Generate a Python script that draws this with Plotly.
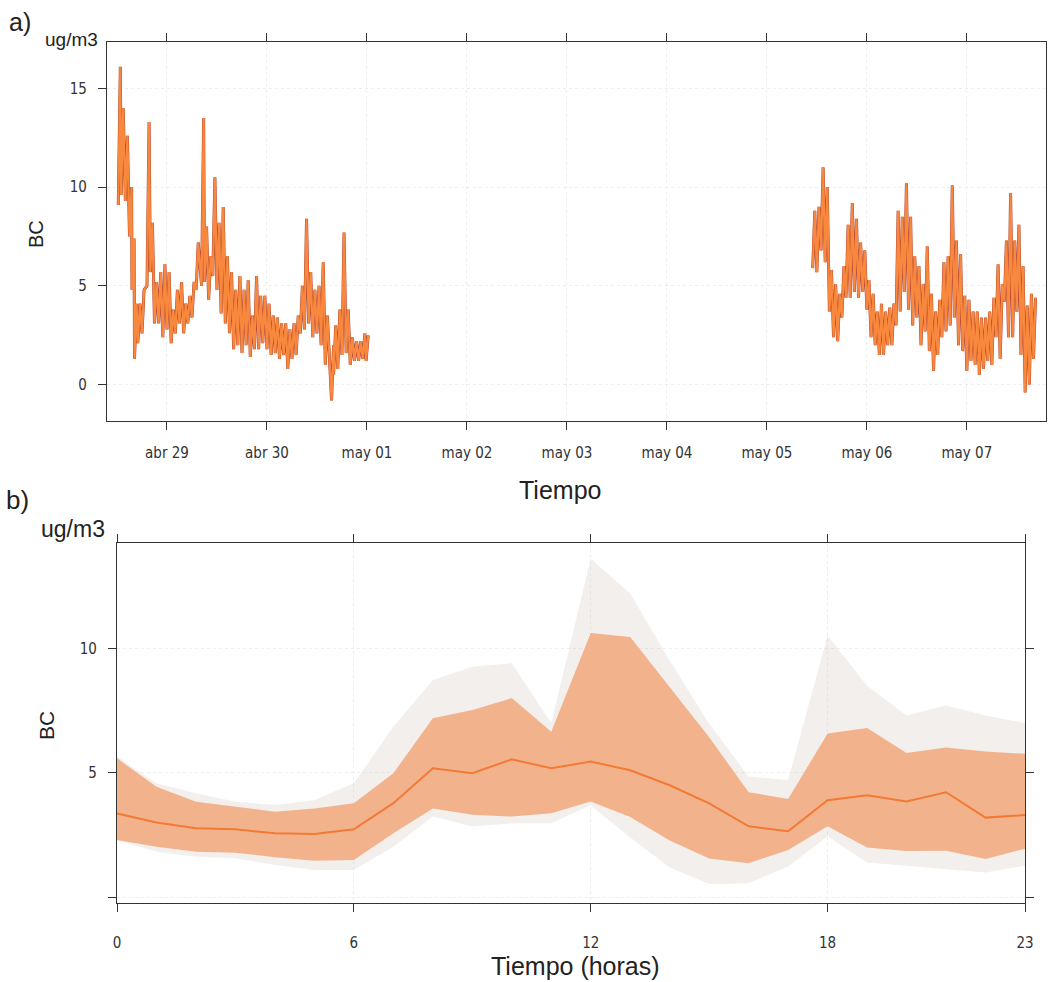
import datetime as dt
import plotly.graph_objects as go

# ---------------- Panel a: BC time series (hours since 2017-04-28 00:00) ----------------
seg1_hours = [12.3, 13, 14, 15, 15.6, 16.2, 17, 18, 19.2, 20, 21, 22, 23, 24, 25, 26, 27, 28, 29, 30,
              31, 32.3, 33, 34, 35, 36, 37, 38, 39, 40, 41, 42, 43, 44, 45, 46, 47, 48, 49, 50,
              51, 52, 53, 54, 55, 56, 57, 58, 59, 60, 61, 62, 63.5, 64, 65, 66, 67, 68, 69, 70,
              71, 71.8]
seg1_low = [9.1, 9.6, 9.3, 7.5, 4.8, 1.3, 2.1, 2.6, 5.0, 5.7, 3.1, 3.1, 2.4, 2.8, 2.1, 2.6, 3.1, 2.6, 3.1, 3.4,
            4.8, 5.0, 5.2, 4.3, 5.5, 4.8, 3.6, 3.1, 2.6, 1.8, 2.0, 1.6, 2.0, 1.4, 1.8, 1.8, 2.1, 1.8, 1.5, 1.6,
            1.3, 1.5, 0.8, 1.3, 1.5, 2.6, 2.8, 3.1, 2.4, 2.6, 2.0, 1.0, -0.8, 0.5, 0.8, 1.5, 1.6, 1.0, 1.2, 1.2,
            1.3, 1.2]
seg1_high = [16.1, 14.0, 12.6, 10.0, 7.4, 4.1, 4.1, 4.8, 13.3, 8.2, 5.2, 5.7, 6.1, 5.7, 3.8, 4.8, 5.2, 4.1, 4.5, 5.2,
             7.2, 13.5, 8.0, 6.5, 10.5, 8.2, 9.0, 6.5, 5.7, 4.8, 5.5, 4.8, 5.3, 3.5, 5.5, 4.5, 4.5, 4.1, 3.5, 3.4,
             3.1, 3.1, 2.8, 3.1, 3.5, 5.0, 8.4, 5.7, 4.8, 5.0, 6.2, 3.5, 2.0, 3.0, 3.8, 7.7, 3.8, 2.4, 2.2, 2.2,
             2.6, 2.5]

seg2_hours = [179, 180, 181, 182, 183, 184, 185, 186, 187, 188, 189, 190, 191, 192, 193, 194, 195, 196, 197, 198,
              199, 200, 201, 202, 203, 204, 205, 206, 207, 208, 209, 210, 211, 212, 213, 214, 215, 216, 217, 218,
              219, 220, 221, 222, 223, 224, 225, 226, 227, 228, 229, 230, 231, 232]
seg2_low = [5.9, 5.7, 6.8, 6.2, 3.7, 2.4, 2.2, 3.4, 4.4, 4.4, 4.7, 4.4, 4.7, 3.8, 2.4, 2.0, 1.5, 1.5, 2.0, 2.0,
            3.0, 3.7, 4.7, 3.8, 3.0, 3.4, 2.0, 2.7, 1.7, 0.7, 1.5, 2.4, 2.7, 3.0, 3.4, 2.0, 1.7, 0.7, 1.2, 1.0,
            0.5, 0.8, 1.2, 1.0, 2.4, 1.3, 4.2, 2.4, 2.4, 3.7, 1.5, -0.4, 0.0, 1.3]
seg2_high = [8.8, 9.0, 11.0, 10.0, 5.8, 5.1, 4.6, 6.0, 8.1, 9.2, 8.4, 7.2, 6.8, 5.3, 4.6, 3.7, 4.1, 3.7, 3.9, 4.1,
             8.8, 8.5, 10.2, 8.5, 6.5, 6.0, 5.1, 7.0, 4.6, 3.7, 4.3, 6.2, 6.5, 10.1, 7.3, 6.6, 4.5, 4.3, 3.7, 3.7,
             3.4, 3.4, 3.7, 4.4, 6.1, 5.1, 7.3, 9.7, 7.3, 8.1, 6.0, 4.0, 4.6, 4.4]

day_ticks = ["2017-04-29", "2017-04-30", "2017-05-01", "2017-05-02", "2017-05-03",
             "2017-05-04", "2017-05-05", "2017-05-06", "2017-05-07"]
day_labels = ["abr 29", "abr 30", "may 01", "may 02", "may 03", "may 04", "may 05", "may 06", "may 07"]

# ---------------- Panel b: diurnal profile ----------------
hours = list(range(24))
bc_mean = [3.37, 3.0, 2.77, 2.73, 2.57, 2.54, 2.73, 3.78, 5.18, 4.98, 5.54, 5.18,
           5.45, 5.1, 4.5, 3.77, 2.85, 2.65, 3.9, 4.1, 3.85, 4.22, 3.2, 3.3]
q_low = [2.30, 2.03, 1.83, 1.79, 1.61, 1.47, 1.5, 2.57, 3.57, 3.31, 3.24, 3.37,
         3.85, 3.22, 2.28, 1.56, 1.37, 1.9, 2.85, 2.0, 1.86, 1.87, 1.54, 1.95]
q_high = [5.58, 4.44, 3.84, 3.64, 3.44, 3.57, 3.78, 4.98, 7.19, 7.52, 8.0, 6.65,
          10.62, 10.45, 8.45, 6.43, 4.22, 3.95, 6.58, 6.8, 5.79, 6.02, 5.86, 5.76]
ext_low = [2.3, 1.83, 1.63, 1.57, 1.3, 1.1, 1.1, 2.03, 3.24, 2.84, 2.97, 2.97,
           3.7, 2.4, 1.2, 0.53, 0.56, 1.24, 2.45, 1.4, 1.27, 1.13, 1.0, 1.27]
ext_high = [5.65, 4.58, 4.18, 3.84, 3.71, 3.9, 4.58, 6.85, 8.73, 9.26, 9.4, 7.0,
            13.6, 12.2, 9.5, 6.97, 4.85, 4.71, 10.5, 8.5, 7.3, 7.7, 7.3, 7.0]

base = dt.datetime(2017, 4, 28)


def zigzag(hrs, lo, hi):
    xs, ys = [], []
    for h, a, b in zip(hrs, lo, hi):
        xs += [base + dt.timedelta(hours=h), base + dt.timedelta(hours=h + 0.5)]
        ys += [a, b]
    return xs, ys


x1, y1 = zigzag(seg1_hours, seg1_low, seg1_high)
x2, y2 = zigzag(seg2_hours, seg2_low, seg2_high)
xa = x1 + [None] + x2
ya = y1 + [None] + y2

fig = go.Figure()
fig.add_trace(go.Scatter(x=xa, y=ya, mode="lines", line=dict(color="#b0402f", width=3.0),
                         connectgaps=False, showlegend=False, xaxis="x", yaxis="y"))
fig.add_trace(go.Scatter(x=xa, y=ya, mode="lines", line=dict(color="#f7883e", width=2.2),
                         connectgaps=False, showlegend=False, xaxis="x", yaxis="y"))

# panel b: outer faint band
fig.add_trace(go.Scatter(x=hours, y=ext_low, mode="lines", line=dict(width=0),
                         showlegend=False, xaxis="x2", yaxis="y2"))
fig.add_trace(go.Scatter(x=hours, y=ext_high, mode="lines", line=dict(width=0), fill="tonexty",
                         fillcolor="rgba(212,202,195,0.30)", showlegend=False, xaxis="x2", yaxis="y2"))
# inner band
fig.add_trace(go.Scatter(x=hours, y=q_low, mode="lines", line=dict(width=0),
                         showlegend=False, xaxis="x2", yaxis="y2"))
fig.add_trace(go.Scatter(x=hours, y=q_high, mode="lines", line=dict(width=0), fill="tonexty",
                         fillcolor="rgba(242,168,122,0.85)", showlegend=False, xaxis="x2", yaxis="y2"))
fig.add_trace(go.Scatter(x=hours, y=bc_mean, mode="lines", line=dict(color="#f27a35", width=2),
                         showlegend=False, xaxis="x2", yaxis="y2"))

W, H = 1048, 982
FONT = "Liberation Sans Narrow, DejaVu Sans Condensed, Liberation Sans, Arial, sans-serif"
axis_common = dict(showline=True, linecolor="#333333", linewidth=1.4, ticks="outside",
                   tickcolor="#333333", ticklen=8, tickwidth=1.2, showgrid=True,
                   gridcolor="#ededed", griddash="dot", zeroline=False,
                   tickfont=dict(family=FONT, size=15, color="#333333"),
                   automargin=False)

fig.update_layout(
    width=W, height=H, margin=dict(l=0, r=0, t=0, b=0),
    paper_bgcolor="white", plot_bgcolor="white", showlegend=False,
    xaxis=dict(axis_common, domain=[107 / W, 1046 / W], anchor="y", type="date",
               range=[base + dt.timedelta(hours=9.6), base + dt.timedelta(hours=235.0)],
               tickvals=day_ticks, ticktext=day_labels, mirror="ticks", ticklabelstandoff=10),
    yaxis=dict(axis_common, domain=[1 - 421 / H, 1 - 42 / H], anchor="x",
               range=[-1.84, 17.35], tickvals=[0, 5, 10, 15], ticktext=["0", "5", "10", "15"],
               mirror=True, ticklabelstandoff=8),
    xaxis2=dict(axis_common, domain=[117 / W, 1025 / W], anchor="y2",
                range=[0, 23], tickvals=[0, 6, 12, 18, 23], ticktext=["0", "6", "12", "18", "23"],
                mirror="ticks", ticklabelstandoff=18),
    yaxis2=dict(axis_common, domain=[1 - 903 / H, 1 - 543 / H], anchor="x2",
                range=[-0.23, 14.23], tickvals=[0, 5, 10], ticktext=["", "5", "10"],
                mirror="ticks", ticklabelstandoff=8),
)


def ann(text, x, y, size, angle=0):
    fig.add_annotation(text=text, x=x / W, y=1 - y / H, xref="paper", yref="paper",
                       showarrow=False, textangle=angle, xanchor="center", yanchor="middle",
                       font=dict(family="Liberation Sans, Arial, sans-serif", size=size, color="#222222"))


ann("a)", 20, 22, 25)
ann("ug/m3", 71, 39, 19)
ann("BC", 36, 234, 20, -90)
ann("Tiempo", 560, 490, 25)
ann("b)", 17, 500, 26)
ann("ug/m3", 73, 529, 23)
ann("BC", 46, 726, 21, -90)
ann("Tiempo (horas)", 575, 966, 25)

fig.write_html("out.html",
               config={"displayModeBar": False},
               post_script="document.body.style.margin='0';"
                           "document.documentElement.style.overflow='hidden';"
                           "document.body.style.overflow='hidden';")
